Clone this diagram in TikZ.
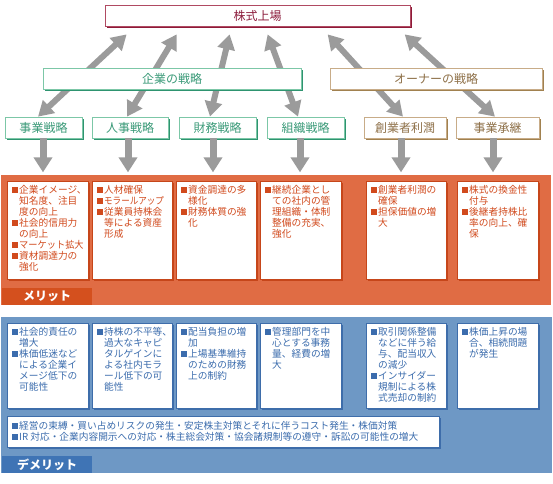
\documentclass[tikz,border=0pt]{standalone}
\usepackage{fontspec}
\usepackage{graphicx}
\setmainfont{Noto Sans CJK JP}
\usetikzlibrary{arrows.meta,shadows,calc}
\definecolor{crim}{HTML}{B04A62}
\definecolor{crimdk}{HTML}{8E1A38}
\definecolor{crimtxt}{HTML}{8C1C3C}
\definecolor{grn}{HTML}{7CC7A7}
\definecolor{grndk}{HTML}{2E9470}
\definecolor{grntxt}{HTML}{3A9A78}
\definecolor{brn}{HTML}{C8AC88}
\definecolor{brndk}{HTML}{A1814F}
\definecolor{brntxt}{HTML}{8E7048}
\definecolor{agray}{HTML}{9B9B9B}
\definecolor{opanel}{HTML}{E06C44}
\definecolor{olabel}{HTML}{D4501E}
\definecolor{otxt}{HTML}{D14A1D}
\definecolor{odk}{HTML}{C6461A}
\definecolor{bpanel}{HTML}{6E98C5}
\definecolor{blabel}{HTML}{3F74B5}
\definecolor{btxt}{HTML}{3B6CAD}
\definecolor{bdk}{HTML}{3E6DAA}
\newcommand{\bul}{\makebox[7.7pt][l]{\rule[0.4pt]{6.2pt}{6.2pt}}}
\newcommand{\ind}{\hspace*{7.7pt}}
\newcommand{\boxtext}[3]{\parbox[c][#2pt][t]{#1pt}{#3}}
\begin{document}
\begin{tikzpicture}[x=1pt,y=-1pt,
  hd/.style={font=\fontsize{12}{14}\selectfont, inner sep=0pt, fill=white, line width=0.7pt},
  topbox/.style={hd, draw=crim, text=crimtxt, drop shadow={shadow xshift=1.8pt, shadow yshift=-1.8pt, fill=crimdk, opacity=1}},
  gbox/.style={hd, draw=grn, text=grntxt, drop shadow={shadow xshift=1.8pt, shadow yshift=-1.8pt, fill=grndk, opacity=1}},
  bbox/.style={hd, draw=brn, text=brntxt, drop shadow={shadow xshift=1.8pt, shadow yshift=-1.8pt, fill=brndk, opacity=1}},
  tb/.style={font=\fontsize{9.7}{11}\selectfont, inner sep=0pt, fill=white, line width=0.6pt},
  obox/.style={tb, draw=odk, text=otxt, drop shadow={shadow xshift=1.5pt, shadow yshift=-1.5pt, fill=odk, opacity=1}},
  ubox/.style={tb, draw=bdk, text=btxt, drop shadow={shadow xshift=1.5pt, shadow yshift=-1.5pt, fill=bdk, opacity=1}},
  panellabel/.style={inner sep=0pt, text=white, font=\fontsize{12}{14}\selectfont\bfseries, minimum width=90pt, minimum height=17pt},
  barrow/.style={draw=agray, line width=6pt, {Triangle[width=17pt,length=15pt]}-{Triangle[width=17pt,length=15pt]}},
  darrow/.style={draw=agray, line width=7pt, -{Triangle[width=18pt,length=15pt]}}
]
\useasboundingbox (0,0) rectangle (553,483);

% panels
\node[fill=opanel, inner sep=0pt, minimum width=550pt, minimum height=130pt] (mp) at (276,240) {};
\node[fill=bpanel, inner sep=0pt, minimum width=551pt, minimum height=156pt] (dp) at (276.5,395) {};
\node[panellabel, fill=olabel] (ml) at (47,296.5) {メリット};
\node[panellabel, fill=blabel] (dl) at (47,464.5) {デメリット};

% small strategy boxes
\node[gbox, minimum width=77pt, minimum height=21pt] (s1) at (43.5,127.5) {事業戦略};
\node[gbox, minimum width=76pt, minimum height=21pt] (s2) at (130,127.5) {人事戦略};
\node[gbox, minimum width=77pt, minimum height=21pt] (s3) at (217.5,127.5) {財務戦略};
\node[gbox, minimum width=77pt, minimum height=21pt] (s4) at (305.5,127.5) {組織戦略};
\node[bbox, minimum width=82pt, minimum height=21pt] (s5) at (405,127.5) {創業者利潤};
\node[bbox, minimum width=83pt, minimum height=21pt] (s6) at (497.5,127.5) {事業承継};

% top box
\node[topbox, minimum width=305pt, minimum height=21pt] (top) at (257.5,15.5) {株式上場};

% double arrows
\draw[barrow] ([xshift=-5.5pt]s1.north) -- ($(top.south west)+(22,8)$);
\draw[barrow] ([xshift=-3pt]s2.north) -- ($(top.south west)+(72,8)$);
\draw[barrow] ([xshift=-7.5pt]s3.north) -- ($(top.south west)+(125,8)$);
\draw[barrow] ([xshift=-7.5pt]s4.north) -- ($(top.south west)+(163,8)$);
\draw[barrow] ([xshift=-2pt]s5.north) -- ($(top.south west)+(223,8)$);
\draw[barrow] ([xshift=-2.5pt]s6.north) -- ($(top.south west)+(300,8)$);

% group boxes (over the arrows)
\node[gbox, minimum width=258pt, minimum height=21pt] (corp) at (172,78.5) {企業の戦略};
\node[bbox, minimum width=212pt, minimum height=21pt] (own) at (436,78.5) {オーナーの戦略};

% down arrows
\draw[darrow] ([xshift=-0.5pt]s1.south) -- ++(0,34);
\draw[darrow] ([xshift=-2pt]s2.south) -- ++(0,34);
\draw[darrow] ([xshift=-4.5pt]s3.south) -- ++(0,34);
\draw[darrow] ([xshift=-5.5pt]s4.south) -- ++(0,34);
\draw[darrow] ([xshift=-4pt]s5.south) -- ++(0,34);
\draw[darrow] ([xshift=-4.5pt]s6.south) -- ++(0,34);

% merit boxes
\node[obox, minimum width=81pt, minimum height=98pt] (o1) at (47.5,230) {\boxtext{72}{89}{\bul 企業イメージ、\\\ind 知名度、注目\\\ind 度の向上\\\bul 社会的信用力\\\ind の向上\\\bul\scalebox{0.95}[1]{マーケット拡大}\\\bul 資材調達力の\\\ind 強化}};
\node[obox, minimum width=80pt, minimum height=98pt] (o2) at (132,230) {\boxtext{71}{89}{\bul 人材確保\\\bul\scalebox{0.88}[1]{モラールアップ}\\\bul 従業員持株会\\\ind 等による資産\\\ind 形成}};
\node[obox, minimum width=80pt, minimum height=98pt] (o3) at (216,230) {\boxtext{71}{89}{\bul 資金調達の多\\\ind 様化\\\bul 財務体質の強\\\ind 化}};
\node[obox, minimum width=81pt, minimum height=98pt] (o4) at (300.5,230) {\boxtext{72}{89}{\bul 継続企業とし\\\ind ての社内の管\\\ind 理組織・体制\\\ind 整備の充実、\\\ind 強化}};
\node[obox, minimum width=80pt, minimum height=98pt] (o5) at (406,230) {\boxtext{71}{89}{\bul 創業者利潤の\\\ind 確保\\\bul 担保価値の増\\\ind 大}};
\node[obox, minimum width=81pt, minimum height=98pt] (o6) at (497.5,230) {\boxtext{72}{89}{\bul 株式の換金性\\\ind 付与\\\bul 後継者持株比\\\ind 率の向上、確\\\ind 保}};

% demerit boxes
\node[ubox, minimum width=81pt, minimum height=85pt] (u1) at (47.5,365.5) {\boxtext{72}{76}{\bul 社会的責任の\\\ind 増大\\\bul 株価低迷など\\\ind による企業イ\\\ind メージ低下の\\\ind 可能性}};
\node[ubox, minimum width=80pt, minimum height=85pt] (u2) at (132,365.5) {\boxtext{71}{76}{\bul 持株の不平等、\\\ind 過大なキャピ\\\ind タルゲインに\\\ind よる社内モラ\\\ind ール低下の可\\\ind 能性}};
\node[ubox, minimum width=80pt, minimum height=85pt] (u3) at (216,365.5) {\boxtext{71}{76}{\bul 配当負担の増\\\ind 加\\\bul 上場基準維持\\\ind のための財務\\\ind 上の制約}};
\node[ubox, minimum width=81pt, minimum height=85pt] (u4) at (300.5,365.5) {\boxtext{72}{76}{\bul 管理部門を中\\\ind 心とする事務\\\ind 量、経費の増\\\ind 大}};
\node[ubox, minimum width=80pt, minimum height=85pt] (u5) at (406,365.5) {\boxtext{71}{76}{\bul 取引関係整備\\\ind などに伴う給\\\ind 与、配当収入\\\ind の減少\\\bul インサイダー\\\ind 規制による株\\\ind 式売却の制約}};
\node[ubox, minimum width=81pt, minimum height=85pt] (u6) at (497.5,365.5) {\boxtext{72}{76}{\bul 株価上昇の場\\\ind 合、相続問題\\\ind が発生}};
\node[ubox, minimum width=432pt, minimum height=31pt] (u7) at (223,431.5) {\parbox{423pt}{\bul 経営の束縛・買い占めリスクの発生・安定株主対策とそれに伴うコスト発生・株価対策\\\bul IR 対応・企業内容開示への対応・株主総会対策・協会諸規制等の遵守・訴訟の可能性の増大}};
\end{tikzpicture}
\end{document}
